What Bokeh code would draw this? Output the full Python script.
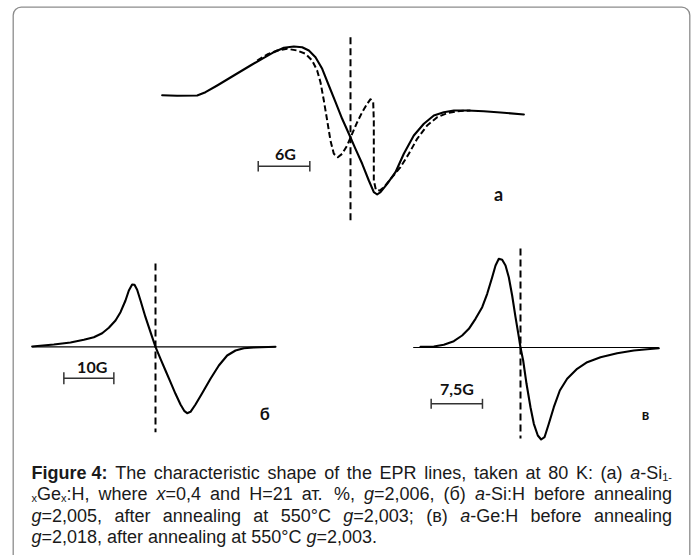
from bokeh.plotting import figure
from bokeh.models import Range1d, ColumnDataSource
from bokeh.core.properties import value
from bokeh.embed import file_html
from bokeh.resources import INLINE

# ---------------- data ----------------
# panel (a): a-Si1-xGex:H, field offset in G, signal in arb. units
a_sol_G = [-21.9, -20.16, -17.83, -16.86, -15.50, -13.57, -11.63, -10.08, -8.91, -7.75,
           -6.59, -5.62, -4.84, -4.07, -3.29, -2.52, -1.74, -0.97, -0.19, 0.58,
           1.36, 2.13, 2.71, 3.10, 3.49, 4.26, 5.23, 6.20, 7.36, 8.53,
           9.69, 10.85, 12.02, 13.57, 15.50, 17.44, 20.16]
a_sol_amp = [45.3, 44.7, 45.0, 48.3, 55.0, 65.0, 75.0, 82.7, 88.3, 92.7,
             94.0, 93.3, 90.0, 83.3, 71.7, 55.0, 38.3, 21.7, 6.7, -8.3,
             -23.3, -40.0, -51.7, -54.0, -51.7, -43.3, -31.7, -13.3, 5.0, 16.7,
             25.0, 28.3, 30.0, 30.0, 29.3, 28.0, 26.0]
a_dash_G = [-10.85, -9.69, -8.53, -7.36, -6.20, -5.23, -4.46, -3.88, -3.49, -3.10,
            -2.71, -2.33, -1.94, -1.47, -0.97, -0.39, 0.19, 0.78, 1.36, 1.94,
            2.33, 2.64, 2.71, 2.71, 2.71, 2.95, 3.41, 3.88, 4.84, 5.81,
            6.78, 7.75, 8.91, 10.08, 11.24, 12.40, 13.95]
a_dash_amp = [80.0, 86.0, 90.0, 91.7, 90.0, 86.7, 80.0, 70.0, 58.3, 40.0,
              20.0, 0.0, -13.3, -16.7, -13.3, -5.0, 6.7, 18.3, 28.3, 36.7,
              41.3, 38.3, 20.0, -13.3, -40.0, -49.3, -50.0, -46.7, -36.7, -26.7,
              -13.3, 1.7, 15.0, 23.3, 27.3, 29.3, 30.0]

# panel (б): a-Si:H
b_G = [-24.67, -20.33, -17.0, -14.33, -12.33, -10.67, -9.33, -8.0, -7.0, -6.0,
       -5.33, -4.67, -4.2, -3.67, -3.0, -2.0, -1.0, 0.0, 1.0, 2.0,
       3.0, 4.0, 5.0, 5.8, 6.33, 7.0, 8.0, 9.33, 11.0, 12.67,
       14.33, 16.0, 17.67, 19.67, 24.0]
b_amp = [0.3, 2.3, 4.3, 7.0, 9.6, 13.6, 19.0, 26.3, 34.6, 46.3,
         56.3, 62.3, 62.0, 57.0, 46.3, 29.6, 14.6, 0.0, -12.0, -23.7,
         -35.4, -47.0, -57.7, -64.4, -66.4, -65.0, -57.7, -46.4, -32.0, -18.7,
         -8.7, -3.7, -1.4, -0.7, 0.0]

# panel (в): a-Ge:H
c_G = [-14.62, -12.67, -11.21, -9.75, -8.53, -7.55, -6.58, -5.60, -4.87, -4.14,
       -3.65, -3.17, -2.68, -2.19, -1.71, -1.22, -0.73, -0.24, 0.0, 0.39,
       0.88, 1.46, 1.95, 2.53, 3.02, 3.51, 4.14, 4.87, 5.75, 6.82,
       8.28, 9.75, 11.70, 14.13, 16.57, 18.52, 20.22]
c_amp = [0.7, 1.0, 2.7, 6.3, 12.0, 18.7, 28.7, 40.3, 53.7, 70.3,
         82.0, 88.7, 87.7, 82.0, 70.3, 52.0, 30.3, 10.3, 0.0, -13.0,
         -36.3, -59.7, -76.3, -88.0, -92.0, -89.7, -76.3, -59.7, -43.0, -31.3,
         -21.3, -14.7, -9.7, -5.7, -3.0, -1.7, -0.7]

# baselines (field extent, G)
b_base_G = [-24.67, 24.0]
c_base_G = [-15.69, 20.22]

# scale bars (G)
scale_names = ["a", "b", "c"]
scale_len = [6.0, 10.0, 7.5]
scale_labels = ["6G", "10G", "7,5G"]

# panel labels
panel_labels = ["a", "б", "в"]

# caption: segments, style, line index, preceded-by-space flag
cap_text = ["Figure 4:", "The", "characteristic", "shape", "of", "the", "EPR", "lines,",
            "taken", "at", "80", "K:", "(a)", "a", "-Si", "1-",
            "x", "Ge", "x", ":H,", "where", "x", "=0,4", "and", "H=21", "ат.", "%,",
            "g", "=2,006,", "(б)", "a", "-Si:H", "before", "annealing",
            "g", "=2,005,", "after", "annealing", "at", "550°C", "g", "=2,003;", "(в)",
            "a", "-Ge:H", "before", "annealing",
            "g", "=2,018,", "after", "annealing", "at", "550°C", "g", "=2,003."]
cap_style = ["bold", "normal", "normal", "normal", "normal", "normal", "normal", "normal",
             "normal", "normal", "normal", "normal", "normal", "italic", "normal", "sub",
             "sub", "normal", "sub", "normal", "normal", "italic", "normal", "normal", "normal",
             "normal", "normal", "italic", "normal", "normal", "italic", "normal", "normal", "normal",
             "italic", "normal", "normal", "normal", "normal", "normal", "italic", "normal", "normal",
             "italic", "normal", "normal", "normal",
             "italic", "normal", "normal", "normal", "normal", "normal", "italic", "normal"]
cap_line = [0] * 16 + [1] * 18 + [2] * 13 + [3] * 8
cap_gap = [0, 1, 1, 1, 1, 1, 1, 1, 1, 1, 1, 1, 1, 1, 0, 0,
           0, 0, 0, 0, 1, 1, 0, 1, 1, 1, 1, 1, 0, 1, 1, 0, 1, 1,
           0, 0, 1, 1, 1, 1, 1, 0, 1, 1, 0, 1, 1,
           0, 0, 1, 1, 1, 1, 1, 0]
cap_justify = [True, True, True, False]

# ---------------- layout (pixels of the 697x555 page) ----------------
W, H = 697, 555
# panel mapping: pixel x of zero field, pixels per gauss, pixel y of zero signal
PANEL = {"a": (350.0, 8.6, 140.0), "b": (155.0, 5.0, 346.3), "c": (520.0, 6.84, 347.0)}
DASH_EXT = {"a": (103.3, -80.0), "b": (83.3, -85.4), "c": (99.0, -91.0)}
SCALE_POS = {"a": (-10.73, -25.7, 5.3), "b": (-18.33, -31.4, 6.0), "c": (-13.06, -56.3, 5.0)}
SCALE_LABEL_XY = [(285, 152.5), (91.7, 366), (456.5, 388)]
PANEL_LABEL_XY = [(498, 193.5), (264.3, 412.5), (645, 413.5)]
PANEL_LABEL_SIZE = ["18px", "17px", "15px"]
LINE_BASE = [472.3, 493.8, 515.3, 536.8]
CAP_LEFT, CAP_RIGHT = 31.0, 671.5
FS, FS_SUB = 18.0, 11.0

# Arial / Liberation Sans advance widths (1/1000 em) for the caption glyphs
_W = {" ": 278, "a": 556, "c": 500, "d": 556, "e": 556, "f": 278, "g": 556, "h": 556,
      "i": 222, "k": 500, "l": 222, "n": 556, "o": 556, "p": 556, "r": 333, "s": 500,
      "t": 278, "u": 556, "w": 722, "x": 500, "C": 722, "E": 667, "F": 611, "G": 778,
      "H": 722, "K": 667, "P": 667, "R": 722, "S": 667, "T": 611, ",": 278, ".": 278,
      ":": 278, ";": 278, "-": 333, "=": 584, "(": 333, ")": 333, "%": 889, "°": 400,
      "а": 556, "т": 458, "б": 573, "в": 531}
_WB = {"F": 611, "i": 278, "g": 611, "u": 611, "r": 389, "e": 556, " ": 278, ":": 333}


def seg_width(t, style):
    fs = FS_SUB if style == "sub" else FS
    tab = _WB if style == "bold" else _W
    return sum(tab.get(ch, 556) for ch in t) * fs / 1000.0


cap_xpos = [0.0] * len(cap_text)
for ln in range(4):
    idx = [i for i in range(len(cap_text)) if cap_line[i] == ln]
    natural = sum(seg_width(cap_text[i], cap_style[i]) for i in idx)
    nsp = sum(cap_gap[i] for i in idx)
    sp = 278 * FS / 1000.0
    if cap_justify[ln] and nsp:
        sp = (CAP_RIGHT - CAP_LEFT - natural) / nsp
    x = CAP_LEFT
    for i in idx:
        if cap_gap[i]:
            x += sp
        cap_xpos[i] = x
        x += seg_width(cap_text[i], cap_style[i])

p = figure(width=W, height=H, x_range=Range1d(0, W), y_range=Range1d(H, 0),
           output_backend="svg", toolbar_location=None,
           x_axis_location=None, y_axis_location=None, min_border=0)
p.grid.visible = False
p.outline_line_color = None
p.background_fill_color = "white"
p.border_fill_color = "white"

for k, (x0, ppg, y0) in PANEL.items():
    p.extra_x_ranges[k] = Range1d(start=(0 - x0) / ppg, end=(W - x0) / ppg)
    p.extra_y_ranges[k] = Range1d(start=y0 - H, end=y0)

# frame with rounded corners
p.quad(left=[12.7], right=[689.3], top=[6.7], bottom=[565], fill_color=None,
       line_color="#8c8c8c", line_width=1.3, border_radius=8)

curve_kw = dict(line_color="black", line_width=2.1, line_join="round", line_cap="round")

# panel a
p.line(a_sol_G, a_sol_amp, x_range_name="a", y_range_name="a", **curve_kw)
p.line(a_dash_G, a_dash_amp, x_range_name="a", y_range_name="a",
       line_color="black", line_width=2.0, line_dash="6 3", line_join="round")

# panel б
p.line(b_base_G, [0, 0], x_range_name="b", y_range_name="b", line_color="black", line_width=1.2)
p.line(b_G, b_amp, x_range_name="b", y_range_name="b", **curve_kw)

# panel в
p.line(c_base_G, [0, 0], x_range_name="c", y_range_name="c", line_color="black", line_width=1.2)
p.line(c_G, c_amp, x_range_name="c", y_range_name="c", **curve_kw)

# dashed g-markers and scale bars
for k, L in zip(scale_names, scale_len):
    top, bot = DASH_EXT[k]
    p.segment(x0=[0], y0=[top], x1=[0], y1=[bot], x_range_name=k, y_range_name=k,
              line_color="black", line_width=2.0, line_dash="7 4")
    gx, gy, th = SCALE_POS[k]
    p.segment(x0=[gx, gx, gx + L], y0=[gy, gy - th, gy - th],
              x1=[gx + L, gx, gx + L], y1=[gy, gy + th, gy + th],
              x_range_name=k, y_range_name=k, line_color="#333333", line_width=1.5)

lbl_font = value("Lato")
p.text(x=[xy[0] for xy in SCALE_LABEL_XY], y=[xy[1] for xy in SCALE_LABEL_XY], text=scale_labels,
       text_font=lbl_font, text_font_style="bold", text_font_size="16px",
       text_align="center", text_baseline="middle", text_color="#111111")
lab_src = ColumnDataSource(dict(x=[xy[0] for xy in PANEL_LABEL_XY], y=[xy[1] for xy in PANEL_LABEL_XY],
                                t=panel_labels, s=PANEL_LABEL_SIZE))
p.text(x="x", y="y", text="t", source=lab_src, text_font=lbl_font, text_font_style="bold",
       text_font_size="s", text_align="center", text_baseline="middle", text_color="#111111")

# caption
cap_font = value("Liberation Sans")
for style in ["bold", "normal", "italic", "sub"]:
    idx = [i for i, s in enumerate(cap_style) if s == style]
    ys = [LINE_BASE[cap_line[i]] + (4 if style == "sub" else 0) for i in idx]
    src = ColumnDataSource(dict(x=[cap_xpos[i] for i in idx], y=ys, t=[cap_text[i] for i in idx]))
    p.text(x="x", y="y", text="t", source=src, text_font=cap_font,
           text_font_size=f"{FS_SUB:g}px" if style == "sub" else f"{FS:g}px",
           text_font_style="normal" if style == "sub" else style,
           text_align="left", text_baseline="alphabetic", text_color="#1a1a1a")

open("out.html", "w").write(file_html(p, INLINE))
